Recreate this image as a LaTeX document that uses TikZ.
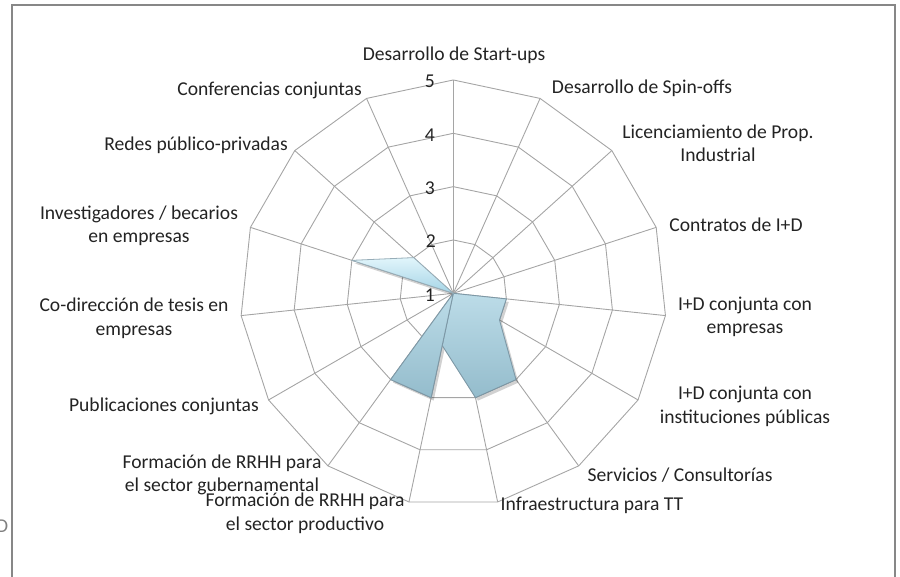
\documentclass[tikz,border=0pt]{standalone}
\usepackage{fontspec}
\setmainfont{Carlito}
\usetikzlibrary{calc}
\definecolor{gridc}{RGB}{165,165,165}
\definecolor{framec}{RGB}{135,135,135}
\definecolor{txt}{RGB}{35,35,35}
\definecolor{fillA}{RGB}{188,220,232}
\definecolor{fillB}{RGB}{148,188,204}
\definecolor{edgeC}{RGB}{125,152,166}
\definecolor{spikeA}{RGB}{225,245,251}
\definecolor{spikeB}{RGB}{165,212,230}
\begin{document}
\begin{tikzpicture}[x=1pt,y=-1pt,
  lbl/.style={font=\fontsize{19.6}{23.5}\selectfont, text=txt, inner sep=0pt, align=center},
  num/.style={font=\fontsize{19.6}{23.5}\selectfont, text=txt, inner sep=0pt, anchor=east},
  gridline/.style={draw=gridc, line width=0.9pt},
  datafill/.style={top color=fillA, bottom color=fillB, draw=edgeC, line width=0.9pt, line join=round},
  spikefill/.style={top color=spikeA, bottom color=spikeB, draw=edgeC!80, line width=0.8pt, line join=round},
  shadowfill/.style={fill=black, opacity=0.18}]
\useasboundingbox (0,0) rectangle (900,577);
% frame
\draw[framec, line width=1.5pt] (12,600) -- (12,5) -- (895,5) -- (895,600);
\node[lbl, anchor=east, text=black!50] (frag) at (8.5,526) {D};
\coordinate (C) at (453.3,293.3);
\begin{scope}[shift={(C)}]
  % rings
  \foreach \r in {1,2,3,4}{
    \draw[gridline] (-90:\r*53.33) \foreach \k in {1,...,14}{ -- ({24*\k-90}:{\r*53.33}) } -- cycle;
  }
  % spokes
  \foreach \k in {0,...,14}{
    \draw[gridline] (0,0) -- ({24*\k-90}:213.3);
  }
  % shadows
  \begin{scope}[shift={(2.5,3)}]
    \fill[shadowfill] (0,0) -- (6:53.33) -- (30:53.33) -- (54:106.67) -- (78:106.67) -- (102:53.33) -- cycle;
    \fill[shadowfill] (0,0) -- (102:106.67) -- (126:106.67) -- cycle;
    \fill[shadowfill] (0,0) -- (198:106.67) -- (222:53.33) -- cycle;
  \end{scope}
  % data
  \draw[datafill] (0,0) -- (6:53.33) -- (30:53.33) -- (54:106.67) -- (78:106.67) -- (102:53.33) -- cycle;
  \draw[datafill] (0,0) -- (102:106.67) -- (126:106.67) -- cycle;
  \draw[spikefill] (0,0) -- (198:106.67) -- (222:53.33) -- cycle;
\end{scope}
% scale numbers
\node[num] (n1) at (435,295) {1};
\node[num] (n2) at (436,241.6) {2};
\node[num] (n3) at (435,188.3) {3};
\node[num] (n4) at (435,135) {4};
\node[num] (n5) at (435,81.6) {5};
% axis labels
\node[lbl] (l0) at (454,55) {Desarrollo de Start-ups};
\node[lbl] (l1) at (642,88) {Desarrollo de Spin-offs};
\node[lbl] (l2) at (718,143.5) {Licenciamiento de Prop.\\Industrial};
\node[lbl] (l3) at (736,225) {Contratos de I+D};
\node[lbl] (l4) at (745,317) {I+D conjunta con\\empresas};
\node[lbl] (l5) at (745,406.5) {I+D conjunta con\\instituciones públicas};
\node[lbl] (l6) at (680,475) {Servicios / Consultorías};
\node[lbl] (l7) at (592,505) {Infraestructura para TT};
\node[lbl] (l8) at (305,513.5) {Formación de RRHH para\\el sector productivo};
\node[lbl] (l9) at (222,475) {Formación de RRHH para\\el sector gubernamental};
\node[lbl, anchor=east] (l10) at (259,406) {Publicaciones conjuntas};
\node[lbl] (l11) at (134,318.5) {Co-dirección de tesis en\\empresas};
\node[lbl] (l12) at (139,226) {Investigadores / becarios\\en empresas};
\node[lbl, anchor=east] (l13) at (288,145) {Redes público-privadas};
\node[lbl, anchor=east] (l14) at (362,90) {Conferencias conjuntas};
\end{tikzpicture}
\end{document}
